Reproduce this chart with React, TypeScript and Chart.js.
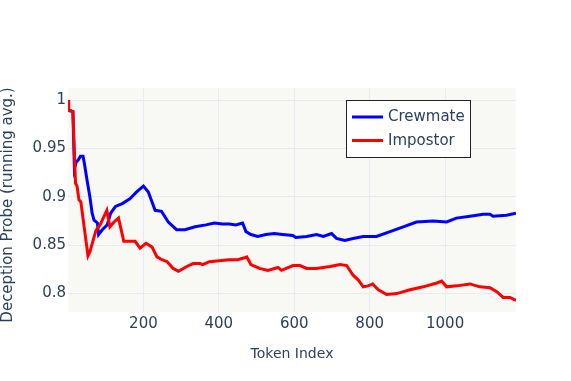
import React, { useEffect, useRef } from "react";
import { Chart, registerables } from "chart.js";

Chart.register(...registerables);

const seriesNames = ["Crewmate", "Impostor"];
const seriesColors = ["#0000ff", "#ff0000"];

const crewTokens = [0, 13, 17, 22, 27, 33, 40, 44, 51, 58, 64, 69, 78, 81, 91, 104, 113, 126, 144, 164, 182, 200, 213, 231, 248, 266, 288, 310, 337, 366, 388, 410, 428, 445, 463, 472, 485, 503, 525, 547, 569, 596, 604, 633, 659, 677, 699, 712, 734, 756, 783, 818, 854, 889, 924, 968, 1004, 1030, 1066, 1101, 1119, 1127, 1163, 1188];
const crewValues = [0.99, 0.988, 0.929, 0.936, 0.938, 0.942, 0.942, 0.933, 0.916, 0.9, 0.883, 0.876, 0.873, 0.861, 0.866, 0.871, 0.883, 0.89, 0.893, 0.898, 0.905, 0.911, 0.905, 0.886, 0.885, 0.874, 0.866, 0.866, 0.869, 0.871, 0.873, 0.872, 0.872, 0.871, 0.873, 0.864, 0.861, 0.859, 0.861, 0.862, 0.861, 0.86, 0.858, 0.859, 0.861, 0.859, 0.862, 0.857, 0.855, 0.857, 0.859, 0.859, 0.864, 0.869, 0.874, 0.875, 0.874, 0.878, 0.88, 0.882, 0.882, 0.88, 0.881, 0.883];

const impTokens = [0, 2, 13, 20, 24, 29, 34, 53, 58, 74, 85, 103, 111, 122, 134, 148, 178, 191, 207, 223, 236, 249, 263, 279, 293, 315, 332, 350, 357, 375, 401, 428, 450, 468, 474, 485, 508, 530, 557, 566, 597, 615, 633, 659, 695, 721, 739, 756, 770, 783, 796, 808, 823, 845, 872, 907, 942, 978, 991, 1004, 1031, 1066, 1092, 1119, 1137, 1154, 1172, 1188];
const impValues = [1.0, 0.989, 0.988, 0.914, 0.911, 0.897, 0.895, 0.839, 0.843, 0.865, 0.871, 0.886, 0.869, 0.874, 0.878, 0.854, 0.854, 0.847, 0.852, 0.848, 0.838, 0.835, 0.833, 0.826, 0.823, 0.828, 0.831, 0.831, 0.83, 0.833, 0.834, 0.835, 0.835, 0.837, 0.838, 0.83, 0.826, 0.824, 0.827, 0.824, 0.829, 0.829, 0.826, 0.826, 0.828, 0.83, 0.829, 0.819, 0.814, 0.807, 0.808, 0.81, 0.804, 0.799, 0.8, 0.804, 0.807, 0.811, 0.813, 0.807, 0.808, 0.81, 0.807, 0.806, 0.802, 0.796, 0.796, 0.793];

const xTickValues = [200, 400, 600, 800, 1000];
const xTickLabels = ["200", "400", "600", "800", "1000"];
const yTickValues = [0.8, 0.85, 0.9, 0.95, 1];
const yTickLabels = ["0.8", "0.85", "0.9", "0.95", "1"];

const xTitle = "Token Index";
const yTitle = "Deception Probe (running avg.)";

const TEXT = "#2a3f5f";
const FONT = "'DejaVu Sans', sans-serif";

export default function App() {
  const ref = useRef<HTMLCanvasElement | null>(null);

  useEffect(() => {
    document.body.style.margin = "0";
    const canvas = ref.current;
    if (!canvas) return;

    const bgPlugin = {
      id: "plotBg",
      beforeDraw(chart: any) {
        const { ctx, chartArea } = chart;
        ctx.save();
        ctx.fillStyle = "#f8f8f5";
        ctx.fillRect(chartArea.left, chartArea.top, chartArea.right - chartArea.left, chartArea.bottom - chartArea.top);
        ctx.restore();
      },
    };

    const overlayPlugin = {
      id: "overlay",
      afterDraw(chart: any) {
        const { ctx } = chart;
        ctx.save();
        // y axis title
        ctx.translate(8.5, 205);
        ctx.rotate(-Math.PI / 2);
        ctx.font = "15px " + FONT;
        ctx.fillStyle = TEXT;
        ctx.textAlign = "center";
        ctx.textBaseline = "middle";
        ctx.fillText(yTitle, 0, 0);
        ctx.restore();

        ctx.save();
        const bx = 346.5, by = 100.5, bw = 124, bh = 57;
        ctx.fillStyle = "#ffffff";
        ctx.fillRect(bx, by, bw, bh);
        ctx.strokeStyle = "#222222";
        ctx.lineWidth = 1;
        ctx.strokeRect(bx, by, bw, bh);
        const rows = [117, 140.5];
        ctx.font = "15px " + FONT;
        ctx.textBaseline = "middle";
        ctx.textAlign = "left";
        seriesNames.forEach((name, i) => {
          ctx.strokeStyle = seriesColors[i];
          ctx.lineWidth = 3;
          ctx.beginPath();
          ctx.moveTo(352, rows[i]);
          ctx.lineTo(383, rows[i]);
          ctx.stroke();
          ctx.fillStyle = TEXT;
          ctx.fillText(name, 388, rows[i] + 0.5);
        });
        ctx.restore();
      },
    };

    const chart = new Chart(canvas, {
      type: "line",
      data: {
        datasets: [
          {
            label: seriesNames[0],
            data: crewTokens.map((t, i) => ({ x: t, y: crewValues[i] })),
            borderColor: seriesColors[0],
            borderWidth: 3,
            pointRadius: 0,
            tension: 0,
            order: 2,
          },
          {
            label: seriesNames[1],
            data: impTokens.map((t, i) => ({ x: t, y: impValues[i] })),
            borderColor: seriesColors[1],
            borderWidth: 3,
            pointRadius: 0,
            tension: 0,
            order: 1,
          },
        ],
      },
      options: {
        responsive: false,
        animation: false,
        events: [],
        layout: { padding: { left: 0, right: 55, top: 88, bottom: 0 } },
        plugins: { legend: { display: false }, tooltip: { enabled: false } },
        scales: {
          x: {
            type: "linear",
            min: 0,
            max: 1188,
            afterBuildTicks: (s: any) => {
              s.ticks = xTickValues.map((v) => ({ value: v }));
            },
            afterFit: (s: any) => {
              s.height = 69;
            },
            ticks: {
              padding: 3,
              maxRotation: 0,
              autoSkip: false,
              color: TEXT,
              font: { family: FONT, size: 15 },
              callback: (v: any) => xTickLabels[xTickValues.indexOf(Number(v))] ?? "",
            },
            grid: { color: "#e6ebf3", lineWidth: 1, drawTicks: false },
            border: { display: false },
            title: {
              display: true,
              text: xTitle,
              color: TEXT,
              font: { family: FONT, size: 14 },
              padding: { top: 4, bottom: 18 },
            },
          },
          y: {
            type: "linear",
            min: 0.781,
            max: 1.0124,
            afterBuildTicks: (s: any) => {
              s.ticks = yTickValues.map((v) => ({ value: v }));
            },
            afterFit: (s: any) => {
              s.width = 68;
            },
            ticks: {
              padding: 2,
              autoSkip: false,
              color: TEXT,
              font: { family: FONT, size: 15 },
              callback: (v: any) => {
                const idx = yTickValues.findIndex((t) => Math.abs(t - Number(v)) < 1e-9);
                return idx >= 0 ? yTickLabels[idx] : "";
              },
            },
            grid: { color: "#e6ebf3", lineWidth: 1, drawTicks: false },
            border: { display: false },
            title: { display: false },
          },
        },
      },
      plugins: [bgPlugin, overlayPlugin],
    });

    return () => chart.destroy();
  }, []);

  return (
    <div style={{ width: 571, height: 381 }}>
      <canvas ref={ref} width={571} height={381} style={{ display: "block" }} />
    </div>
  );
}
